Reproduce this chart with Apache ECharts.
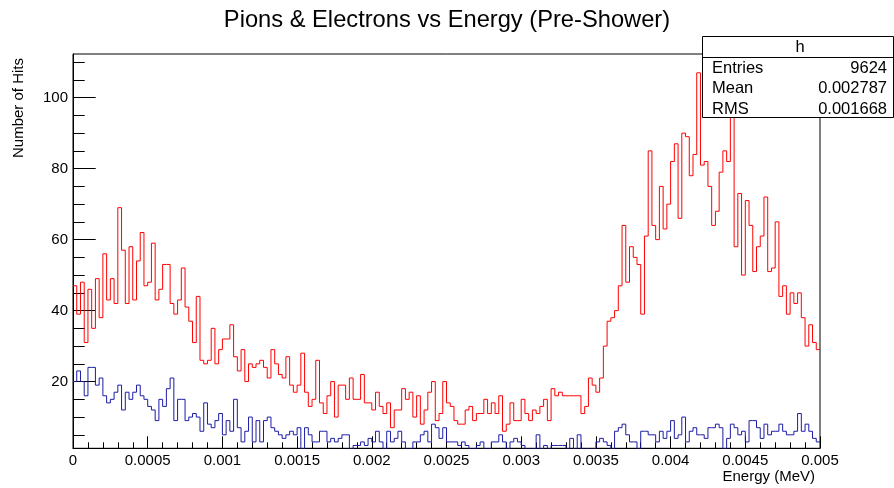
<!DOCTYPE html>
<html>
<head>
<meta charset="utf-8">
<script src="https://cdn.jsdelivr.net/npm/echarts@6/dist/echarts.min.js"></script>
<style>
  html, body { margin: 0; padding: 0; background: #fff; }
  #main { width: 894px; height: 488px; }
</style>
</head>
<body>
<div id="main"></div>
<script>
// histogram binning (200 bins from 0 to 0.005 MeV)
var xMin = 0;
var xMax = 0.005;
var nBins = 200;

// pions (red) per bin
var redCounts = [
  47, 39, 48, 31, 46, 35, 49, 38, 56, 43,
  49, 42, 69, 57, 42, 58, 43, 54, 62, 47,
  48, 59, 43, 46, 53, 53, 42, 39, 43, 52,
  41, 37, 31, 44, 26, 25, 26, 35, 25, 29,
  32, 32, 36, 27, 23, 29, 20, 25, 24, 25,
  26, 24, 21, 29, 25, 22, 21, 27, 19, 17,
  19, 28, 17, 13, 15, 26, 14, 11, 16, 20,
  10, 19, 19, 15, 21, 15, 15, 22, 14, 14,
  12, 17, 13, 11, 14, 7, 12, 12, 18, 15,
  17, 10, 16, 8, 12, 17, 20, 9, 11, 20,
  14, 13, 9, 8, 8, 12, 13, 9, 11, 11,
  15, 11, 14, 11, 16, 6, 8, 14, 9, 9,
  15, 11, 9, 12, 11, 13, 15, 9, 18, 16,
  17, 16, 16, 16, 16, 16, 11, 13, 21, 19,
  17, 21, 30, 37, 38, 40, 47, 64, 48, 58,
  55, 53, 39, 61, 85, 64, 60, 75, 63, 70,
  82, 87, 66, 90, 89, 78, 84, 107, 81, 82,
  75, 64, 68, 79, 85, 82, 99, 58, 73, 50,
  71, 64, 51, 58, 61, 72, 51, 52, 65, 44,
  47, 39, 45, 42, 45, 38, 30, 36, 31, 29
];

// electrons (blue) per bin
var blueCounts = [
  20, 23, 20, 16, 24, 24, 19, 21, 16, 14,
  15, 17, 19, 12, 17, 15, 17, 19, 16, 15,
  13, 12, 9, 15, 13, 18, 21, 9, 15, 15,
  9, 10, 11, 10, 6, 14, 8, 7, 9, 11,
  5, 9, 6, 15, 7, 3, 6, 10, 3, 9,
  3, 9, 10, 7, 6, 5, 4, 5, 6, 5,
  7, 1, 7, 5, 3, 3, 6, 6, 3, 4,
  3, 4, 5, 5, 1, 2, 2, 3, 2, 4,
  3, 6, 3, 1, 6, 3, 4, 6, 3, 1,
  1, 3, 3, 5, 6, 3, 8, 7, 4, 7,
  3, 3, 3, 2, 3, 2, 1, 1, 2, 3,
  1, 1, 3, 3, 5, 3, 1, 3, 4, 3,
  2, 1, 1, 1, 5, 1, 2, 1, 2, 2,
  2, 2, 1, 4, 1, 5, 1, 1, 1, 1,
  3, 4, 3, 2, 1, 6, 7, 8, 5, 3,
  3, 1, 6, 6, 5, 5, 3, 6, 4, 6,
  9, 4, 5, 10, 3, 6, 7, 5, 5, 4,
  7, 7, 8, 7, 1, 4, 8, 7, 5, 6,
  3, 9, 9, 7, 4, 8, 5, 6, 6, 8,
  6, 5, 5, 6, 11, 6, 8, 6, 4, 3
];

var yMajorTicks = [20, 40, 60, 80, 100];
var yMinorTicks = [5, 10, 15, 25, 30, 35, 45, 50, 55, 65, 70, 75, 85, 90, 95, 105, 110];
var statsRows = [
  ['Entries', '9624'],
  ['Mean', '0.002787'],
  ['RMS', '0.001668']
];

var FONT = 'Liberation Sans, Helvetica, Arial, sans-serif';

// 把每个bin变成水平线段（直方图轮廓）
function histPoints(counts) {
  var w = (xMax - xMin) / nBins;
  var pts = [];
  for (var i = 0; i < counts.length; i++) {
    pts.push([xMin + i * w, counts[i]]);
    pts.push([xMin + (i + 1) * w, counts[i]]);
  }
  return pts;
}

var chart = echarts.init(document.getElementById('main'));

// stats box
var statsGraphics = [
  { type: 'rect', shape: { x: 702.5, y: 36.5, width: 191, height: 81 },
    style: { fill: '#fff', stroke: '#000', lineWidth: 1 }, z: 100 },
  { type: 'line', shape: { x1: 702.5, y1: 57.5, x2: 893.5, y2: 57.5 },
    style: { stroke: '#000', lineWidth: 1 }, z: 101 },
  { type: 'text', x: 800, y: 47, z: 101,
    style: { text: 'h', font: '16.5px ' + FONT, fill: '#000', textAlign: 'center', textVerticalAlign: 'middle' } }
];
statsRows.forEach(function (row, i) {
  var y = 68.5 + i * 20.3;
  statsGraphics.push({ type: 'text', x: 712, y: y, z: 101,
    style: { text: row[0], font: '16.5px ' + FONT, fill: '#000', textAlign: 'left', textVerticalAlign: 'middle' } });
  statsGraphics.push({ type: 'text', x: 887, y: y, z: 101,
    style: { text: row[1], font: '16.5px ' + FONT, fill: '#000', textAlign: 'right', textVerticalAlign: 'middle' } });
});

option = {
  animation: false,
  backgroundColor: '#fff',
  grid: {
    left: 73, top: 54, width: 747, height: 394.3,
    show: true, borderColor: '#000', borderWidth: 1
  },
  xAxis: {
    type: 'value', min: xMin, max: xMax, interval: 0.0005,
    axisLine: { show: true, onZero: false, lineStyle: { color: '#000', width: 1 } },
    axisTick: { inside: true, length: 12, lineStyle: { color: '#000' } },
    minorTick: { show: true, splitNumber: 5, length: 6, lineStyle: { color: '#000' } },
    splitLine: { show: false },
    axisLabel: {
      color: '#000', fontSize: 15, fontFamily: FONT, margin: 5,
      formatter: function (v) { return String(+v.toFixed(4)); }
    }
  },
  yAxis: [
    {
      type: 'value', min: 1.2, max: 112.3,
      axisLine: { show: true, lineStyle: { color: '#000', width: 1 } },
      axisTick: { show: true, inside: true, length: 22.7, customValues: yMajorTicks, lineStyle: { color: '#000' } },
      axisLabel: { customValues: yMajorTicks, color: '#000', fontSize: 15, fontFamily: FONT, margin: 5 },
      splitLine: { show: false }
    },
    {
      type: 'value', min: 1.2, max: 112.3, position: 'left',
      axisLine: { show: false },
      axisTick: { show: true, inside: true, length: 11.7, customValues: yMinorTicks, lineStyle: { color: '#000' } },
      axisLabel: { show: false },
      splitLine: { show: false }
    }
  ],
  series: [
    {
      name: 'pions', type: 'line', data: histPoints(redCounts),
      showSymbol: false, symbol: 'none', clip: true,
      lineStyle: { color: '#ff0000', width: 1 }, z: 3
    },
    {
      name: 'electrons', type: 'line', data: histPoints(blueCounts),
      showSymbol: false, symbol: 'none', clip: true,
      lineStyle: { color: '#1c1ca6', width: 1 }, z: 4
    }
  ],
  graphic: [
    { type: 'text', x: 447, y: 20.5,
      style: { text: 'Pions & Electrons vs Energy (Pre-Shower)', font: '23.7px ' + FONT, fill: '#000',
               textAlign: 'center', textVerticalAlign: 'middle' } },
    { type: 'text', x: 18.5, y: 58, rotation: Math.PI / 2,
      style: { text: 'Number of Hits', font: '15px ' + FONT, fill: '#000',
               textAlign: 'right', textVerticalAlign: 'middle' } },
    { type: 'text', x: 815, y: 477,
      style: { text: 'Energy (MeV)', font: '15px ' + FONT, fill: '#000',
               textAlign: 'right', textVerticalAlign: 'middle' } }
  ].concat(statsGraphics)
};

chart.setOption(option);
</script>
</body>
</html>
